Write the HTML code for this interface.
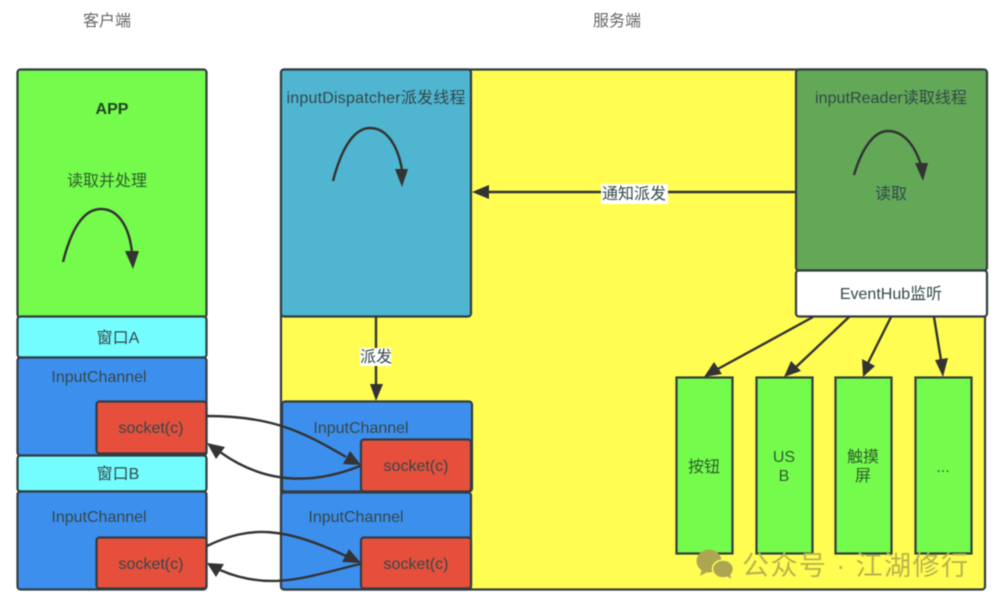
<!DOCTYPE html>
<html><head><meta charset="utf-8"><style>
html,body{margin:0;padding:0;background:#fff}
svg{display:block;filter:blur(.6px)}
text{font-family:"Liberation Sans","Noto Sans CJK SC",sans-serif;font-size:16px;fill:#33484a;text-anchor:middle}
.b{stroke:#333c40;stroke-width:2.2}
.c{fill:none;stroke:#333;stroke-width:2.4}
.h{fill:#333;stroke:none}
</style></head><body>
<svg width="1000" height="604" viewBox="0 0 1000 604" xmlns="http://www.w3.org/2000/svg">
<text x="107" y="26" style="fill:#666">客户端</text>
<text x="617" y="26" style="fill:#666">服务端</text>

<!-- client -->
<rect class="b" x="17.500" y="69.500" width="189" height="248" rx="3" fill="#74fb4c"/>
<rect class="b" x="17.500" y="316.500" width="189" height="41" rx="3" fill="#73fdff"/>
<rect class="b" x="17.500" y="357.500" width="189" height="98" rx="3" fill="#3d8fed"/>
<rect class="b" x="96.500" y="401.500" width="110" height="52" rx="3" fill="#e64f3c"/>
<rect class="b" x="17.500" y="455.500" width="189" height="36" rx="3" fill="#73fdff"/>
<rect class="b" x="17.500" y="491.500" width="189" height="98" rx="3" fill="#3d8fed"/>
<rect class="b" x="96.500" y="537.500" width="110" height="51" rx="3" fill="#e64f3c"/>

<!-- server -->
<rect class="b" x="281" y="69.500" width="704" height="520" rx="3" fill="#fffd52"/>
<rect class="b" x="281" y="69.500" width="190" height="247" rx="3" fill="#4fb5d0"/>
<rect class="b" x="796" y="69.500" width="191" height="201" rx="3" fill="#62a857"/>
<rect class="b" x="796" y="270.500" width="191" height="46" rx="3" fill="#fff"/>
<rect class="b" x="282" y="401.500" width="190" height="90" rx="3" fill="#3d8fed"/>
<rect class="b" x="361" y="439.500" width="110" height="52" rx="3" fill="#e64f3c"/>
<rect class="b" x="281" y="492.500" width="190" height="97" rx="3" fill="#3d8fed"/>
<rect class="b" x="361" y="537.500" width="110" height="51" rx="3" fill="#e64f3c"/>

<rect class="b" x="676.500" y="377.500" width="56" height="176" fill="#74fb4c"/>
<rect class="b" x="756.500" y="377.500" width="56" height="176" fill="#74fb4c"/>
<rect class="b" x="835.500" y="377.500" width="56" height="176" fill="#74fb4c"/>
<rect class="b" x="915.500" y="377.500" width="56" height="176" fill="#74fb4c"/>

<!-- loops -->
<path class="c" d="M63 262C72 226 85 209 101 209C118 209 129 226 132 252"/>
<polygon class="h" points="125,251 139,251 133,269"/>
<path class="c" d="M333 181C342 146 355 128 370 128C387 128 398 146 402 170"/>
<polygon class="h" points="395,169 408,169 402,187"/>
<path class="c" d="M854 175C862 148 874 131 888 131C904 131 915 146 921 165"/>
<polygon class="h" points="915,163 928,163 923,181"/>

<!-- connectors -->
<path class="c" d="M207 416C270 416 300 430 346 457"/>
<polygon class="h" points="361,465 343,464 350,451"/>
<path class="c" d="M360 466C320 482 270 488 220 452"/>
<polygon class="h" points="207,443 225,447 216,459"/>
<path class="c" d="M207 546C250 525 285 527 346 556"/>
<polygon class="h" points="361,563 342,562 349,549"/>
<path class="c" d="M360 564C310 576 270 592 220 570"/>
<polygon class="h" points="207,563 224,564 216,577"/>
<path class="c" d="M796 192H485"/>
<polygon class="h" points="472,192 489,185 489,199"/>
<path class="c" d="M376 316V385"/>
<polygon class="h" points="370,384 383,384 376,401"/>

<path class="c" d="M813 317L716 370"/><polygon class="h" points="704,377 714,362 722,374"/>
<path class="c" d="M849 317L795 368"/><polygon class="h" points="784,377 791,361 801,371"/>
<path class="c" d="M891 317L868 363"/><polygon class="h" points="863,377 862,359 875,366"/>
<path class="c" d="M934 317L941 360"/><polygon class="h" points="943,377 935,360 948,358"/>

<!-- label bg -->
<rect x="601" y="184" width="67" height="20" fill="#fff"/>
<rect x="360" y="348" width="31" height="18" fill="#fff"/>

<!-- text -->
<text x="112" y="114" style="font-weight:bold;fill:#224422">APP</text>
<text x="107" y="186" style="fill:#2f5f2f">读取并处理</text>
<text x="118" y="343">窗口A</text>
<text x="118" y="479">窗口B</text>
<text x="99" y="382">InputChannel</text>
<text x="99" y="522">InputChannel</text>
<text x="151" y="433">socket(c)</text>
<text x="151" y="569">socket(c)</text>
<text x="376" y="103" textLength="179" lengthAdjust="spacing">inputDispatcher派发线程</text>
<text x="891" y="103" textLength="152" lengthAdjust="spacing">inputReader读取线程</text>
<text x="891" y="199">读取</text>
<text x="634" y="199">通知派发</text>
<text x="376" y="362">派发</text>
<text x="361" y="433">InputChannel</text>
<text x="356" y="522">InputChannel</text>
<text x="416" y="471">socket(c)</text>
<text x="416" y="569">socket(c)</text>
<text x="891" y="299">EventHub监听</text>
<text x="704" y="472" style="fill:#2f5f2f">按钮</text>
<text x="784" y="462" style="fill:#2f5f2f">US</text>
<text x="784" y="481" style="fill:#2f5f2f">B</text>
<text x="863" y="462" style="fill:#2f5f2f">触摸</text>
<text x="863" y="481" style="fill:#2f5f2f">屏</text>
<text x="943" y="472" style="fill:#2f5f2f">...</text>

<!-- watermark -->
<ellipse cx="709" cy="561" rx="12.500" ry="11.500" fill="#aca651"/>
<polygon points="702,569 700,576 709,571" fill="#aca651"/>
<ellipse cx="723" cy="569" rx="10.500" ry="9" fill="#aca651" stroke="#fffd52" stroke-width="1.500"/>
<polygon points="727,576 731,579 730,572" fill="#aca651"/>
<text x="855" y="575" textLength="226" lengthAdjust="spacing" style="font-size:27px;fill:#b8b34e">公众号 · 江湖修行</text>
</svg>
</body></html>
